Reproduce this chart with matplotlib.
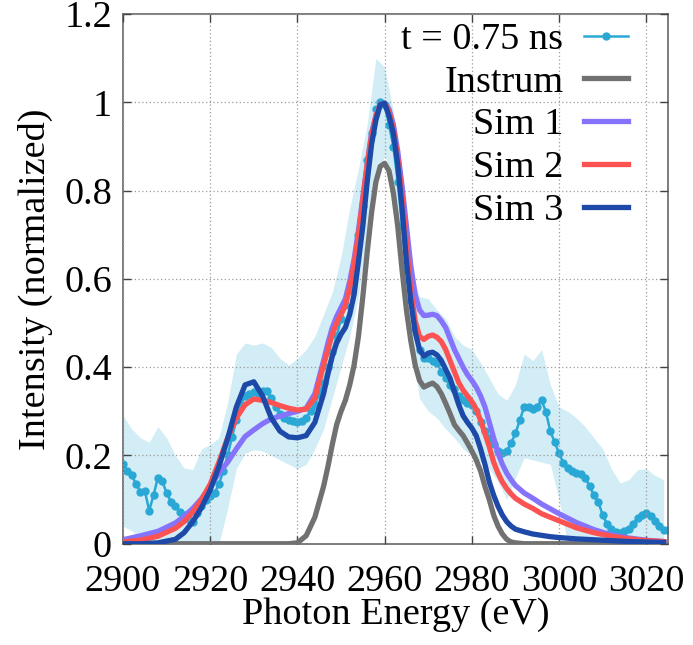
import matplotlib
matplotlib.use("Agg")
import matplotlib.pyplot as plt
import numpy as np

# ---------------- data ----------------
E_data = list(range(2900, 3026))
I_data = [0.18, 0.165, 0.155, 0.135, 0.118, 0.12, 0.075, 0.11, 0.15, 0.142,
          0.115, 0.095, 0.085, 0.073, 0.065, 0.057, 0.05, 0.07, 0.085, 0.1,
          0.108, 0.115, 0.135, 0.165, 0.2, 0.242, 0.28, 0.315, 0.335, 0.34,
          0.343, 0.342, 0.345, 0.345, 0.33, 0.31, 0.295, 0.285, 0.28, 0.278,
          0.276, 0.278, 0.285, 0.3, 0.315, 0.34, 0.365, 0.4, 0.435, 0.47,
          0.51, 0.54, 0.575, 0.63, 0.7, 0.765, 0.87, 0.93, 0.985, 1.0,
          0.995, 0.95, 0.9, 0.82, 0.72, 0.62, 0.55, 0.49, 0.44, 0.42,
          0.42, 0.415, 0.41, 0.39, 0.375, 0.36, 0.35, 0.335, 0.325, 0.318,
          0.315, 0.3, 0.275, 0.255, 0.24, 0.225, 0.21, 0.205, 0.21, 0.228,
          0.25, 0.28, 0.31, 0.31, 0.305, 0.31, 0.326, 0.298, 0.255, 0.23,
          0.205, 0.183, 0.172, 0.165, 0.16, 0.158, 0.15, 0.13, 0.11, 0.095,
          0.065, 0.045, 0.033, 0.027, 0.025, 0.028, 0.033, 0.045, 0.058, 0.066,
          0.07, 0.062, 0.052, 0.04, 0.032, 0.03]

E_band = list(range(2900, 3026, 2))
band_upper = [0.29, 0.26, 0.24, 0.23, 0.265, 0.24, 0.2, 0.172, 0.168, 0.215,
              0.225, 0.24, 0.32, 0.43, 0.455, 0.45, 0.455, 0.445, 0.42, 0.405,
              0.42, 0.44, 0.47, 0.52, 0.57, 0.65, 0.76, 0.85, 0.95, 1.1,
              1.08, 0.98, 0.78, 0.62, 0.56, 0.555, 0.53, 0.51, 0.47, 0.45,
              0.44, 0.41, 0.375, 0.34, 0.325, 0.36, 0.43, 0.415, 0.44, 0.36,
              0.31, 0.3, 0.285, 0.265, 0.24, 0.215, 0.17, 0.138, 0.145, 0.168,
              0.17, 0.155, 0.145]
band_lower = [0.04, 0.03, 0.01, 0.0, 0.0, 0.0, 0.0, 0.0, 0.0, 0.0,
              0.0, 0.0, 0.08, 0.17, 0.205, 0.213, 0.21, 0.2, 0.19, 0.18,
              0.17, 0.18, 0.215, 0.26, 0.33, 0.4, 0.47, 0.56, 0.7, 0.82,
              0.88, 0.82, 0.65, 0.45, 0.33, 0.3, 0.285, 0.26, 0.24, 0.215,
              0.2, 0.185, 0.17, 0.14, 0.1, 0.15, 0.195, 0.19, 0.185, 0.18,
              0.1, 0.0, 0.0, 0.0, 0.0, 0.0, 0.0, 0.0, 0.0, 0.0,
              0.0, 0.0, 0.0]

E_sim = ([2900, 2904, 2908, 2912] + list(range(2914, 2947, 2)) +
         list(range(2947, 2991)) + list(range(2992, 3001, 2)) +
         list(range(3004, 3025, 4)))

instrum = ([0.0, 0.0, 0.0, 0.0] +
           [0.0] * 13 + [0.002, 0.018, 0.06, 0.13] +
           [0.175, 0.225, 0.27, 0.3, 0.325, 0.36, 0.405, 0.47, 0.56, 0.66,
            0.75, 0.82, 0.855, 0.862, 0.845, 0.795, 0.72, 0.62, 0.53, 0.46,
            0.405, 0.37, 0.355, 0.36, 0.364, 0.356, 0.34, 0.318, 0.295, 0.27,
            0.257, 0.245, 0.228, 0.21, 0.19, 0.165, 0.13, 0.1, 0.065, 0.04,
            0.022, 0.01, 0.004, 0.002] +
           [0.0] * 5 + [0.0] * 6)

sim1 = ([0.009, 0.018, 0.028, 0.047] +
        [0.062, 0.08, 0.102, 0.13, 0.16, 0.185, 0.215, 0.243, 0.258, 0.272,
         0.283, 0.289, 0.295, 0.3, 0.307, 0.34, 0.415] +
        [0.455, 0.49, 0.515, 0.535, 0.555, 0.595, 0.645, 0.71, 0.785, 0.86,
         0.93, 0.97, 0.995, 0.999, 0.985, 0.95, 0.89, 0.81, 0.72, 0.63,
         0.565, 0.53, 0.517, 0.518, 0.52, 0.517, 0.505, 0.49, 0.465, 0.44,
         0.42, 0.4, 0.383, 0.37, 0.355, 0.335, 0.31, 0.275, 0.24, 0.205,
         0.18, 0.16, 0.145, 0.132] +
        [0.115, 0.103, 0.09, 0.079, 0.068] +
        [0.048, 0.032, 0.02, 0.013, 0.008, 0.005])

sim2 = ([0.004, 0.008, 0.017, 0.035] +
        [0.05, 0.072, 0.1, 0.135, 0.185, 0.24, 0.285, 0.315, 0.328, 0.325,
         0.32, 0.313, 0.307, 0.303, 0.305, 0.33, 0.405] +
        [0.44, 0.475, 0.5, 0.52, 0.54, 0.58, 0.635, 0.7, 0.78, 0.86,
         0.925, 0.97, 0.995, 0.998, 0.98, 0.94, 0.875, 0.79, 0.68, 0.575,
         0.505, 0.47, 0.463, 0.47, 0.473, 0.468, 0.458, 0.44, 0.415, 0.39,
         0.365, 0.348, 0.335, 0.322, 0.305, 0.28, 0.25, 0.22, 0.185, 0.16,
         0.14, 0.125, 0.113, 0.103] +
        [0.09, 0.08, 0.068, 0.06, 0.052] +
        [0.036, 0.025, 0.017, 0.011, 0.007, 0.005])

sim3 = ([0.0, 0.0, 0.002, 0.01] +
        [0.025, 0.05, 0.082, 0.122, 0.175, 0.238, 0.31, 0.36, 0.367, 0.335,
         0.285, 0.255, 0.242, 0.24, 0.245, 0.275, 0.34] +
        [0.385, 0.425, 0.455, 0.475, 0.49, 0.52, 0.565, 0.64, 0.72, 0.82,
         0.905, 0.96, 0.995, 0.998, 0.97, 0.93, 0.86, 0.76, 0.64, 0.55,
         0.48, 0.44, 0.425, 0.432, 0.434, 0.428, 0.415, 0.395, 0.375, 0.345,
         0.315, 0.29, 0.275, 0.262, 0.245, 0.215, 0.18, 0.14, 0.11, 0.085,
         0.065, 0.05, 0.04, 0.033] +
        [0.027, 0.022, 0.019, 0.016, 0.014] +
        [0.011, 0.009, 0.007, 0.005, 0.004, 0.003])

x_ticks = [2900, 2920, 2940, 2960, 2980, 3000, 3020]
y_ticks = [0, 0.2, 0.4, 0.6, 0.8, 1.0, 1.2]
y_tick_labels = ["0", "0.2", "0.4", "0.6", "0.8", "1", "1.2"]

# ---------------- style ----------------
plt.rcParams['font.family'] = ['Liberation Serif', 'DejaVu Serif']
FS = 27.5

fig = plt.figure(figsize=(6.93, 6.45), dpi=100)
ax = fig.add_axes([0.1775, 0.157, 0.7865, 0.821])

c_data = '#2aa8d5'
c_band = '#d2edf5'
c_inst = '#717171'
c_s1 = '#8574fb'
c_s2 = '#fd5252'
c_s3 = '#1d4aa8'

ax.fill_between(E_band, band_lower, band_upper, color=c_band, lw=0, zorder=1)
ax.plot(E_data, I_data, color=c_data, lw=1.8, marker='o', ms=5,
        mec=c_data, mfc=c_data, zorder=2, label='t = 0.75 ns')
ax.plot(E_sim, instrum, color=c_inst, lw=3.8, zorder=3, label='Instrum',
        solid_joinstyle='round')
ax.plot(E_sim, sim1, color=c_s1, lw=3.8, zorder=4, label='Sim 1',
        solid_joinstyle='round')
ax.plot(E_sim, sim2, color=c_s2, lw=3.8, zorder=5, label='Sim 2',
        solid_joinstyle='round')
ax.plot(E_sim, sim3, color=c_s3, lw=3.8, zorder=6, label='Sim 3',
        solid_joinstyle='round')

ax.set_xlim(2900, 3025)
ax.set_ylim(0, 1.2)
ax.set_xticks(x_ticks)
ax.set_yticks(y_ticks)
ax.set_yticklabels(y_tick_labels)
ax.tick_params(direction='in', length=6, width=1, top=True, right=True,
               labelsize=FS, color='#444444')
ax.tick_params(axis='x', pad=15)
ax.tick_params(axis='y', pad=8)
ax.grid(True, color='#9a9a9a', lw=0.9, ls=(0, (1, 2)))
for s in ax.spines.values():
    s.set_color('#666666')
    s.set_linewidth(1.2)
ax.set_axisbelow(False)

ax.set_xlabel('Photon Energy (eV)', fontsize=FS, labelpad=-1)
ax.set_ylabel('Intensity (normalized)', fontsize=FS, labelpad=8)

leg = ax.legend(loc='upper right', frameon=False, markerfirst=False,
                fontsize=FS, handlelength=1.15, labelspacing=0.21,
                borderaxespad=0.0, borderpad=0.0, handletextpad=0.55,
                numpoints=1, bbox_to_anchor=(0.927, 0.985))
for t in leg.get_texts():
    t.set_ha('right')

fig.savefig('out.png', dpi=100)
